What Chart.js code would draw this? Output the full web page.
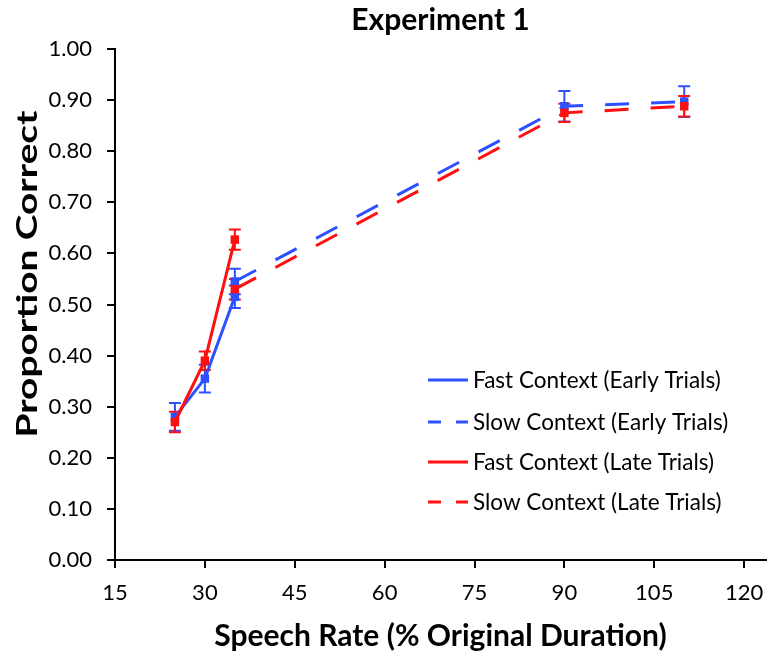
<!DOCTYPE html>
<html><head><meta charset="utf-8">
<script src="https://cdn.jsdelivr.net/npm/chart.js@4/dist/chart.umd.min.js"></script>
<style>html,body{margin:0;padding:0;background:#fff}canvas{display:block}</style>
</head><body>
<canvas id="c" width="772" height="657"></canvas>
<script>
const chartTitle = 'Experiment 1';
const xTitle = 'Speech Rate (% Original Duration)';
const yTitle = 'Proportion Correct';
const seriesLabels = ['Fast Context (Early Trials)', 'Slow Context (Early Trials)', 'Fast Context (Late Trials)', 'Slow Context (Late Trials)'];
const fastRates = [25, 30, 35];
const slowRates = [35, 90, 110];
const fastEarly = [0.280, 0.355, 0.515];
const fastEarlyErr = [0.027, 0.027, 0.022];
const slowEarly = [0.545, 0.888, 0.897];
const slowEarlyErr = [0.025, 0.030, 0.030];
const fastLate = [0.270, 0.390, 0.627];
const fastLateErr = [0.020, 0.018, 0.020];
const slowLate = [0.530, 0.875, 0.888];
const slowLateErr = [0.020, 0.018, 0.020];
const xTicks = [15, 30, 45, 60, 75, 90, 105, 120];
const yTicks = [0, 0.1, 0.2, 0.3, 0.4, 0.5, 0.6, 0.7, 0.8, 0.9, 1.0];

const BLUE = '#2f50ff';
const RED = '#ff1010';
const DASH = [24, 22];
const FONT = 'Lato';

function pts(xs, ys) { return xs.map((x, i) => ({x: x, y: ys[i]})); }
function ds(label, xs, ys, errs, color, dashed, order) {
  return {
    label: label, data: pts(xs, ys), errors: errs,
    borderColor: color, backgroundColor: color, borderWidth: 3,
    borderDash: dashed ? DASH : [], pointStyle: 'rect', pointRadius: 6,
    pointBorderWidth: 0, pointBackgroundColor: color, tension: 0, order: order
  };
}

const errorBars = {
  id: 'errorBars',
  beforeDatasetsDraw(chart) {
    const ctx = chart.ctx, xs = chart.scales.x, ys = chart.scales.y;
    ctx.save();
    chart.data.datasets.forEach(d => {
      ctx.strokeStyle = d.borderColor; ctx.lineWidth = 2; ctx.setLineDash([]);
      d.data.forEach((p, j) => {
        const e = d.errors[j];
        const px = xs.getPixelForValue(p.x);
        const t = ys.getPixelForValue(p.y + e), b = ys.getPixelForValue(p.y - e);
        ctx.beginPath();
        ctx.moveTo(px, t); ctx.lineTo(px, b);
        ctx.moveTo(px - 6, t); ctx.lineTo(px + 6, t);
        ctx.moveTo(px - 6, b); ctx.lineTo(px + 6, b);
        ctx.stroke();
      });
    });
    ctx.restore();
  }
};

const legendBox = {
  id: 'legendBox',
  afterDraw(chart) {
    const ctx = chart.ctx;
    const rows = [380, 422, 462, 502];
    ctx.save();
    ctx.font = '22.5px ' + FONT;
    ctx.textBaseline = 'middle';
    chart.data.datasets.forEach((d, i) => {
      const y = rows[i];
      ctx.strokeStyle = d.borderColor; ctx.lineWidth = 3;
      ctx.setLineDash(d.borderDash.length ? [13, 15] : []);
      ctx.beginPath(); ctx.moveTo(428, y); ctx.lineTo(468, y); ctx.stroke();
      ctx.setLineDash([]);
      ctx.fillStyle = '#000';
      ctx.fillText(d.label, 473, y + 1);
    });
    ctx.restore();
  }
};

const yTitleDraw = {
  id: 'yTitleDraw',
  afterDraw(chart) {
    const ctx = chart.ctx;
    ctx.save();
    ctx.font = 'bold 29px ' + FONT;
    ctx.fillStyle = '#000';
    ctx.textAlign = 'center';
    ctx.textBaseline = 'middle';
    const w = ctx.measureText(yTitle).width;
    ctx.translate(28, 274);
    ctx.rotate(-Math.PI / 2);
    ctx.scale(327 / w, 1);
    ctx.fillText(yTitle, 0, 0);
    ctx.restore();
  }
};

new Chart(document.getElementById('c'), {
  type: 'line',
  data: {
    datasets: [
      ds(seriesLabels[0], fastRates, fastEarly, fastEarlyErr, BLUE, false, 2),
      ds(seriesLabels[1], slowRates, slowEarly, slowEarlyErr, BLUE, true, 2),
      ds(seriesLabels[2], fastRates, fastLate, fastLateErr, RED, false, 1),
      ds(seriesLabels[3], slowRates, slowLate, slowLateErr, RED, true, 1)
    ]
  },
  options: {
    responsive: false, animation: false, devicePixelRatio: 1,
    layout: {padding: {left: 0, right: 0, top: 0, bottom: 0}},
    plugins: {
      legend: {display: false}, tooltip: {enabled: false},
      title: {display: true, text: chartTitle, fullSize: false, color: '#000',
        font: {family: FONT, size: 30, weight: 'bold'}, padding: {top: 2, bottom: 11}}
    },
    scales: {
      x: {
        type: 'linear', min: 15, max: 123.65,
        afterBuildTicks(s) { s.ticks = xTicks.map(v => ({value: v})); },
        afterFit(s) { s.height = 97; s.paddingRight = 0; s.paddingLeft = 0; },
        border: {color: '#000', width: 2},
        grid: {drawOnChartArea: false, drawTicks: true, tickLength: 8, color: '#000', lineWidth: 2},
        ticks: {color: '#000', font: {family: FONT, size: 22}, padding: 12, maxRotation: 0},
        title: {display: true, text: xTitle, color: '#000', font: {family: FONT, size: 30, weight: 'bold'}, padding: {top: 0, bottom: 3}}
      },
      y: {
        type: 'linear', min: 0, max: 1,
        afterBuildTicks(s) { s.ticks = yTicks.map(v => ({value: v})); },
        afterFit(s) { s.width = 115; },
        border: {color: '#000', width: 2},
        grid: {drawOnChartArea: false, drawTicks: true, tickLength: 8, color: '#000', lineWidth: 2},
        ticks: {color: '#000', font: {family: FONT, size: 22}, padding: 15, callback: v => v.toFixed(2)},
        title: {display: false, text: yTitle}
      }
    }
  },
  plugins: [errorBars, legendBox, yTitleDraw]
});
</script>
</body></html>
